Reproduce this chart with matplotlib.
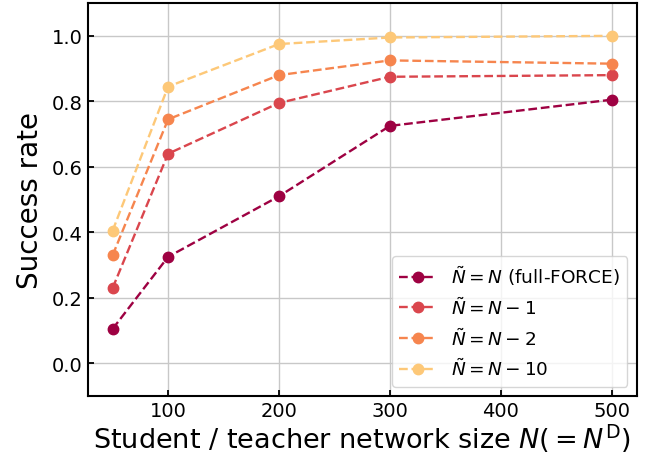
import matplotlib
matplotlib.use("Agg")
import matplotlib.pyplot as plt

sizes = [50, 100, 200, 300, 500]
full_force = [0.105, 0.325, 0.51, 0.725, 0.805]
minus1 = [0.23, 0.64, 0.795, 0.875, 0.88]
minus2 = [0.33, 0.745, 0.88, 0.925, 0.915]
minus10 = [0.405, 0.845, 0.975, 0.995, 1.0]
labels = [r'$\tilde{N}=N$ (full-FORCE)', r'$\tilde{N}=N-1$', r'$\tilde{N}=N-2$', r'$\tilde{N}=N-10$']
colors = ['#9e0142', '#da464d', '#f6854e', '#fdc878']

fig = plt.figure(figsize=(6.52, 4.56), dpi=100)
ax = fig.add_axes([0.1345, 0.1294, 0.842, 0.8616])
for ys, lab, c in zip([full_force, minus1, minus2, minus10], labels, colors):
    ax.plot(sizes, ys, '--o', color=c, label=lab, lw=1.7, markersize=7.5)

ax.set_ylim(-0.1, 1.1)
ax.set_yticks([0.0, 0.2, 0.4, 0.6, 0.8, 1.0])
ax.set_xticks([100, 200, 300, 400, 500])
ax.grid(True, color='#c8c8c8', lw=1)
ax.set_axisbelow(True)
ax.tick_params(direction='in', labelsize=14, length=4, width=1.3)
for s in ax.spines.values():
    s.set_linewidth(1.5)
ax.set_xlabel(r'Student / teacher network size $N (=N^{\mathrm{D}})$', fontsize=19.5, labelpad=1.5)
ax.set_ylabel('Success rate', fontsize=20, labelpad=6)
ax.legend(loc='lower right', fontsize=13.3)
fig.savefig('out.png', dpi=100)
